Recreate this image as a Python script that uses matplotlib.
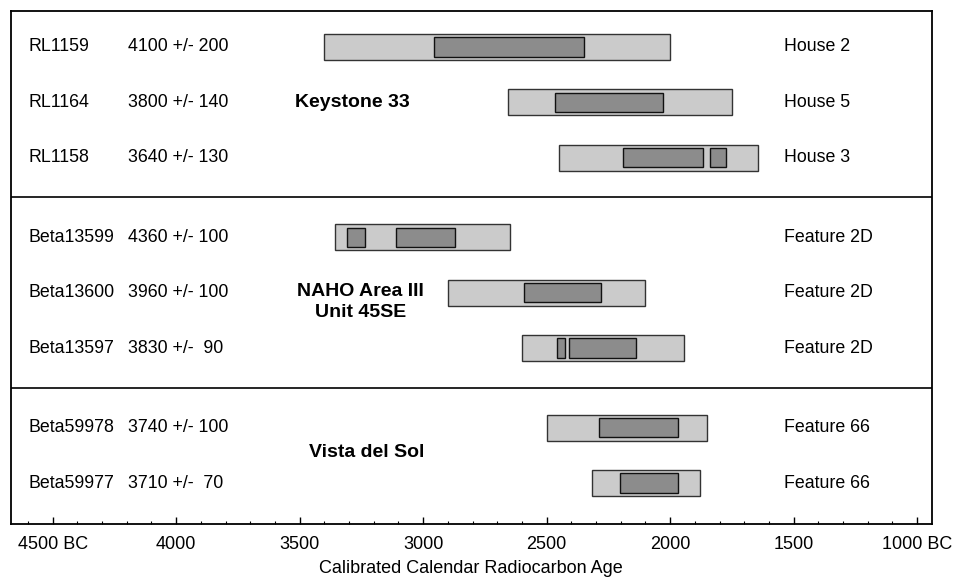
# Calibrated radiocarbon ranges by site
import numpy as np
import matplotlib.pyplot as plt
import matplotlib.transforms as mtransforms
from matplotlib.ticker import MultipleLocator, FixedLocator

plt.rcParams['font.family'] = ['Liberation Sans', 'DejaVu Sans']

# data
lab_ids = ["RL1159", "RL1164", "RL1158",
           "Beta13599", "Beta13600", "Beta13597",
           "Beta59978", "Beta59977"]
ages = ["4100 +/- 200", "3800 +/- 140", "3640 +/- 130",
        "4360 +/- 100", "3960 +/- 100", "3830 +/-  90",
        "3740 +/- 100", "3710 +/-  70"]
contexts = ["House 2", "House 5", "House 3",
            "Feature 2D", "Feature 2D", "Feature 2D",
            "Feature 66", "Feature 66"]
groups = ["Keystone 33", "NAHO Area III\nUnit 45SE", "Vista del Sol"]
group_sizes = [3, 3, 2]

# 2-sigma ranges (start BC, end BC)
two_sigma = [(3400, 2000), (2655, 1750), (2450, 1645),
             (3355, 2650), (2900, 2100), (2600, 1945),
             (2500, 1850), (2315, 1880)]
# 1-sigma ranges, can be split
one_sigma = [[(2955, 2350)],
             [(2465, 2030)],
             [(2190, 1865), (1840, 1775)],
             [(3310, 3235), (3110, 2870)],
             [(2590, 2280)],
             [(2460, 2425), (2410, 2140)],
             [(2290, 1970)],
             [(2205, 1970)]]

tick_years = [4500, 4000, 3500, 3000, 2500, 2000, 1500, 1000]
tick_labels = ["4500 BC", "4000", "3500", "3000", "2500", "2000", "1500", "1000 BC"]

# row layout: groups separated by an extra gap
gap = 1.44
ypos = []
sep_lines = []
group_mid = []
y = 0.0
for gi, n in enumerate(group_sizes):
    rows = [y + k for k in range(n)]
    ypos += rows
    group_mid.append(np.mean(rows))
    y = rows[-1] + gap
    if gi < len(group_sizes) - 1:
        sep_lines.append(rows[-1] + gap / 2)

# where the group names sit (axes x fraction, row offset)
group_x = [0.371, 0.380, 0.386]
group_dy = [0.0, 0.17, -0.05]

fig = plt.figure(figsize=(9.72, 5.79), dpi=100)
ax = fig.add_axes([0.011, 0.095, 0.9478, 0.886])

light = '#cbcbcb'
dark = '#8c8c8c'
for i, yy in enumerate(ypos):
    s, e = two_sigma[i]
    ax.barh(yy, s - e, left=e, height=0.47, color=light,
            edgecolor='#333333', linewidth=1.0, zorder=2)
    for s1, e1 in one_sigma[i]:
        ax.barh(yy, s1 - e1, left=e1, height=0.35, color=dark,
                edgecolor='#111111', linewidth=1.0, zorder=3)

for sy in sep_lines:
    ax.axhline(sy, color='black', linewidth=1.2)

trans = mtransforms.blended_transform_factory(ax.transAxes, ax.transData)
for i, yy in enumerate(ypos):
    ax.text(0.0188, yy, lab_ids[i], transform=trans, va='center', ha='left', fontsize=12.8)
    ax.text(0.1273, yy, ages[i], transform=trans, va='center', ha='left', fontsize=12.8)
    ax.text(0.839, yy, contexts[i], transform=trans, va='center', ha='left', fontsize=12.8)

for gi, g in enumerate(groups):
    ax.text(group_x[gi], group_mid[gi] + group_dy[gi], g, transform=trans,
            va='center', ha='center', fontsize=14, fontweight='bold', linespacing=1.25)

ax.set_xlim(4670, 940)
ax.set_ylim(ypos[-1] + 0.74, -0.65)
ax.xaxis.set_major_locator(FixedLocator(tick_years))
ax.set_xticklabels(tick_labels, fontsize=13)
ax.xaxis.set_minor_locator(MultipleLocator(100))
ax.tick_params(axis='x', which='major', direction='in', length=5, width=1, pad=9)
ax.tick_params(axis='x', which='minor', direction='in', length=2.5, width=0.8)
ax.set_yticks([])
ax.set_xlabel('Calibrated Calendar Radiocarbon Age', fontsize=13, labelpad=5)
for sp in ax.spines.values():
    sp.set_linewidth(1.3)

plt.savefig('out.png', dpi=100)
